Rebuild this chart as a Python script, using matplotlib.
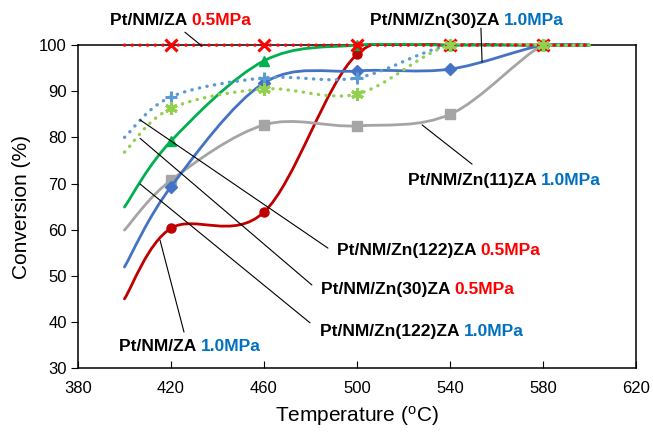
import numpy as np
import matplotlib
matplotlib.use('Agg')
import matplotlib.pyplot as plt
from matplotlib.path import Path
from matplotlib.patches import PathPatch
from matplotlib.transforms import Bbox, TransformedBbox

plt.rcParams['font.family'] = ['Liberation Sans', 'DejaVu Sans']
plt.rcParams['mathtext.fontset'] = 'custom'
plt.rcParams['mathtext.rm'] = 'Liberation Sans'

'数据'
temp = [400, 420, 460, 500, 540, 580, 600]
za_05 = [100, 100, 100, 100, 100, 100, 100]
za_10 = [45.0, 60.3, 63.8, 98.0, 100, 100, 100]
zn122_10 = [64.9, 79.2, 96.6, 100, 100, 100, 100]
zn30_10 = [51.9, 69.3, 91.8, 94.4, 94.8, 100, 100]
zn11_10 = [59.9, 70.7, 82.7, 82.5, 85.0, 100, 100]
zn30_05 = [80.0, 88.8, 92.9, 92.9, 100, 100, 100]
zn122_05 = [76.8, 86.3, 90.5, 89.4, 100, 100, 100]


def smooth_path(x, y):
    # excel style smoothed line, bezier through every point
    p = np.column_stack([x, y]).astype(float)
    n = len(p)
    verts = [p[0]]
    codes = [Path.MOVETO]
    for i in range(n - 1):
        p0 = p[i - 1] if i > 0 else p[i]
        p3 = p[i + 2] if i + 2 < n else p[i + 1]
        c1 = p[i] + (p[i + 1] - p0) / 6
        c2 = p[i + 1] - (p3 - p[i]) / 6
        verts += [c1, c2, p[i + 1]]
        codes += [Path.CURVE4] * 3
    return Path(verts, codes)


fig = plt.figure(figsize=(6.53, 4.34), dpi=100)
ax = fig.add_axes([0.1194, 0.152, 0.8546, 0.744])
# clip a bit above the top so lines at 100 show in full width, overshoot is cut
clipbox = TransformedBbox(Bbox([[0, 0], [1, 1.006]]), ax.transAxes)

dots = (0, (0.1, 2.2))
series = [
    (za_10, '#C00000', '-', 'o', 6.5, 1.0, 1),
    (zn11_10, '#A5A5A5', '-', 's', 6.5, 1.0, 2),
    (zn30_10, '#4472C4', '-', 'D', 6.0, 1.0, 3),
    (zn122_10, '#00B050', '-', '^', 6.5, 1.0, 4),
    (zn30_05, '#5B9BD5', dots, '+', 9, 2.2, 5),
    (za_05, '#FF0000', dots, 'x', 8, 2.2, 6),
    (zn122_05, '#92D050', dots, (6, 2, 0), 9, 2.2, 7),
]
for y, c, ls, mk, ms, mew, z in series:
    lw = 2.0 if ls == '-' else 2.4
    patch = PathPatch(smooth_path(temp, y), facecolor='none', edgecolor=c, lw=lw,
                      linestyle=ls, capstyle='round', joinstyle='round', zorder=z)
    ax.add_patch(patch)
    patch.set_clip_path(None)
    patch.set_clip_box(clipbox)
    ax.plot(temp[1:6], y[1:6], linestyle='none', marker=mk, ms=ms, color=c,
            mec=c, mew=mew, zorder=z + 0.5, clip_on=False)

ax.set_xlim(380, 620)
ax.set_ylim(30, 100)
ax.set_xticks(range(380, 621, 40))
ax.set_yticks(range(30, 101, 10))
ax.tick_params(axis='x', direction='in', length=5, labelsize=12, pad=9)
ax.tick_params(axis='y', direction='out', length=5, labelsize=12, pad=3)
for s in ax.spines.values():
    s.set_linewidth(1.1)
ax.set_xlabel('Temperature ($\\mathregular{^{o}}$C)', fontsize=15, labelpad=6)
ax.set_ylabel('Conversion (%)', fontsize=15, labelpad=6)

'标签'
labels = [
    ('Pt/NM/ZA', '0.5MPa', '#FF0000', (393.8, 105.4), (426.0, 102.8), (433.3, 99.8)),
    ('Pt/NM/Zn(30)ZA', '1.0MPa', '#0070C0', (505.6, 105.4), (553.3, 103.7), (553.8, 96.3)),
    ('Pt/NM/Zn(11)ZA', '1.0MPa', '#0070C0', (521.9, 70.7), (528.0, 82.7), (549.5, 74.2)),
    ('Pt/NM/Zn(122)ZA', '0.5MPa', '#FF0000', (491.4, 55.4), (487.5, 56.0), (406.7, 83.8)),
    ('Pt/NM/Zn(30)ZA', '0.5MPa', '#FF0000', (484.5, 47.1), (480.6, 48.0), (406.7, 79.8)),
    ('Pt/NM/Zn(122)ZA', '1.0MPa', '#0070C0', (484.1, 38.0), (479.8, 39.8), (406.7, 69.9)),
    ('Pt/NM/ZA', '1.0MPa', '#0070C0', (397.6, 34.6), (425.6, 37.8), (415.3, 57.7)),
]
for name, press, pc, pos, a, b in labels:
    t1 = ax.text(pos[0], pos[1], name + ' ', fontsize=12.5, fontweight='bold',
                 ha='left', va='center', zorder=10, clip_on=False)
    ax.annotate(press, xy=(1, 0), xycoords=t1, ha='left', va='bottom',
                fontsize=12.5, fontweight='bold', color=pc, zorder=10)
    ax.annotate('', xy=b, xytext=a, arrowprops=dict(arrowstyle='-', lw=0.8, color='black',
                shrinkA=0, shrinkB=0), annotation_clip=False, zorder=9)

fig.savefig('out.png', dpi=100)
